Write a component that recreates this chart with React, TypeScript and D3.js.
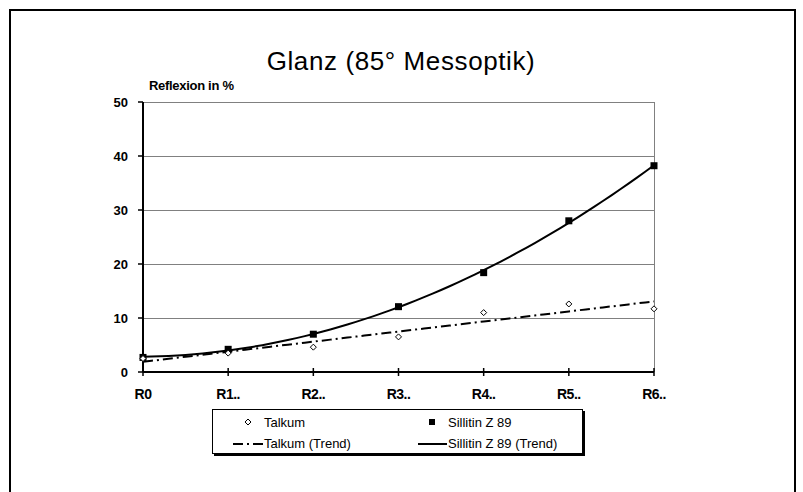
import React from "react";
import * as d3 from "d3"

const categories = ["R0", "R1..", "R2..", "R3..", "R4..", "R5..", "R6.."]
const talkum = [2.5, 3.5, 4.6, 6.5, 11.0, 12.6, 11.7]
const sillitin = [2.7, 4.2, 7.0, 12.1, 18.4, 28.0, 38.2]
const yTicks = [0, 10, 20, 30, 40, 50]

const W = 803
const H = 492
const left = 143
const right = 654
const top = 102
const bottom = 372
const font = "'Liberation Sans', Arial, sans-serif"

// least squares polynomial fit (Excel style trend line), x = 1..n
const polyFit = (ys: number[], degree: number) => {
    const n = degree + 1
    const A: number[][] = [...new Array(n)].map(() => new Array(n + 1).fill(0))
    ys.forEach((y, i) => {
        const x = i + 1
        for (let r = 0; r < n; r++) {
            for (let c = 0; c < n; c++) A[r][c] += Math.pow(x, r + c)
            A[r][n] += Math.pow(x, r) * y
        }
    })
    for (let p = 0; p < n; p++) {
        for (let r = p + 1; r < n; r++) {
            const f = A[r][p] / A[p][p]
            for (let c = p; c <= n; c++) A[r][c] -= f * A[p][c]
        }
    }
    const coef = new Array(n).fill(0)
    for (let r = n - 1; r >= 0; r--) {
        let s = A[r][n]
        for (let c = r + 1; c < n; c++) s -= A[r][c] * coef[c]
        coef[r] = s / A[r][r]
    }
    return (x: number) => coef.reduce((acc, k, i) => acc + k * Math.pow(x, i), 0)
}

export default class App extends React.Component {
    svg: React.RefObject<SVGSVGElement> = React.createRef<SVGSVGElement>()
    componentDidMount() {
        //@ts-ignore
        const svg = d3.select(this.svg.current)
        svg.selectAll("*").remove()

        const x = d3.scalePoint().domain(categories).range([left, right])
        const xi = d3.scaleLinear().domain([1, categories.length]).range([left, right])
        const y = d3.scaleLinear().domain([0, 50]).range([bottom, top])

        // outer frame
        svg.append("rect")
            .attr("x", 10).attr("y", 10)
            .attr("width", 785).attr("height", 520)
            .attr("fill", "white")
            .attr("stroke", "black")
            .attr("stroke-width", 2)

        svg.append("text")
            .attr("x", 401).attr("y", 70)
            .attr("text-anchor", "middle")
            .attr("font-family", font)
            .attr("font-size", 26)
            .attr("letter-spacing", 0.6)
            .text("Glanz (85° Messoptik)")

        svg.append("text")
            .attr("x", 149).attr("y", 90)
            .attr("font-family", font)
            .attr("font-weight", "bold")
            .attr("font-size", 13)
            .attr("letter-spacing", -0.3)
            .text("Reflexion in %")

        // gridlines + plot border
        svg.append("g")
            .selectAll("line")
            .data(yTicks.filter(t => t > 0))
            .join("line")
            .attr("x1", left).attr("x2", right)
            .attr("y1", d => y(d)).attr("y2", d => y(d))
            .attr("stroke", "#808080")
            .attr("stroke-width", 1)
            .attr("shape-rendering", "crispEdges")
        svg.append("line")
            .attr("x1", right).attr("x2", right)
            .attr("y1", y(50)).attr("y2", y(0))
            .attr("stroke", "#808080")
            .attr("stroke-width", 1)
            .attr("shape-rendering", "crispEdges")

        // y axis
        const yAxis = svg.append("g")
        yAxis.append("line")
            .attr("x1", left).attr("x2", left)
            .attr("y1", y(50)).attr("y2", y(0))
            .attr("stroke", "black").attr("stroke-width", 2)
        yAxis.selectAll("line.tick")
            .data(yTicks)
            .join("line")
            .attr("class", "tick")
            .attr("x1", left - 5).attr("x2", left)
            .attr("y1", d => y(d)).attr("y2", d => y(d))
            .attr("stroke", "black").attr("stroke-width", 1.5)
        yAxis.selectAll("text")
            .data(yTicks)
            .join("text")
            .attr("x", 128)
            .attr("y", d => y(d) + 5)
            .attr("text-anchor", "end")
            .attr("font-family", font)
            .attr("font-weight", "bold")
            .attr("font-size", 13)
            .text(d => d)

        // x axis
        const xAxis = svg.append("g")
        xAxis.append("line")
            .attr("x1", left).attr("x2", right)
            .attr("y1", bottom).attr("y2", bottom)
            .attr("stroke", "black").attr("stroke-width", 2)
        xAxis.selectAll("line.tick")
            .data(categories)
            .join("line")
            .attr("class", "tick")
            .attr("x1", d => x(d)!).attr("x2", d => x(d)!)
            .attr("y1", bottom - 4).attr("y2", bottom + 4)
            .attr("stroke", "black").attr("stroke-width", 1.5)
        xAxis.selectAll("text")
            .data(categories)
            .join("text")
            .attr("x", d => x(d)!)
            .attr("y", 399)
            .attr("text-anchor", "middle")
            .attr("font-family", font)
            .attr("font-weight", "bold")
            .attr("font-size", 14)
            .attr("letter-spacing", -0.5)
            .text(d => d)

        // trend lines
        const tTrend = polyFit(talkum, 1)
        const sTrend = polyFit(sillitin, 2)
        const samples = d3.range(1, categories.length + 0.001, 0.1)
        const line = d3.line<number>()
            .x(d => xi(d))
            .y(d => y(0))
        svg.append("path")
            .attr("fill", "none")
            .attr("stroke", "black")
            .attr("stroke-width", 2)
            .attr("stroke-dasharray", "10,4,2,4")
            .attr("d", line.y(d => y(tTrend(d)))(samples))
        svg.append("path")
            .attr("fill", "none")
            .attr("stroke", "black")
            .attr("stroke-width", 2)
            .attr("d", line.y(d => y(sTrend(d)))(samples))

        // markers
        const diamond = (cx: number, cy: number) =>
            `M${cx},${cy - 3}L${cx + 3},${cy}L${cx},${cy + 3}L${cx - 3},${cy}Z`
        svg.append("g")
            .selectAll("rect")
            .data(sillitin)
            .join("rect")
            .attr("x", (d, i) => x(categories[i])! - 3.5)
            .attr("y", d => y(d) - 3.5)
            .attr("width", 7).attr("height", 7)
            .attr("fill", "black")
        svg.append("g")
            .selectAll("path")
            .data(talkum)
            .join("path")
            .attr("d", (d, i) => diamond(x(categories[i])!, y(d)))
            .attr("fill", "white")
            .attr("stroke", "black")
            .attr("stroke-width", 1)

        // legend
        const lg = svg.append("g")
        lg.append("rect")
            .attr("x", 214).attr("y", 411)
            .attr("width", 371).attr("height", 45)
            .attr("fill", "black")
        lg.append("rect")
            .attr("x", 212.5).attr("y", 409.5)
            .attr("width", 370).attr("height", 44)
            .attr("fill", "white")
            .attr("stroke", "black")
            .attr("stroke-width", 1)
        lg.append("path")
            .attr("d", diamond(248, 422))
            .attr("fill", "white").attr("stroke", "black")
        lg.append("rect")
            .attr("x", 429).attr("y", 419)
            .attr("width", 6).attr("height", 6)
            .attr("fill", "black")
        lg.append("line")
            .attr("x1", 233).attr("x2", 263)
            .attr("y1", 444).attr("y2", 444)
            .attr("stroke", "black").attr("stroke-width", 2)
            .attr("stroke-dasharray", "10,4,2,4")
        lg.append("line")
            .attr("x1", 418).attr("x2", 447)
            .attr("y1", 444).attr("y2", 444)
            .attr("stroke", "black").attr("stroke-width", 2)
        const items = [
            { t: "Talkum", x: 264, y: 427 },
            { t: "Sillitin Z 89", x: 448, y: 427 },
            { t: "Talkum (Trend)", x: 264, y: 448 },
            { t: "Sillitin Z 89 (Trend)", x: 448, y: 448 },
        ]
        lg.selectAll("text")
            .data(items)
            .join("text")
            .attr("x", d => d.x).attr("y", d => d.y)
            .attr("font-family", font)
            .attr("font-size", 13)
            .text(d => d.t)
    }
    render(): React.ReactNode {
        return (
            <>
                <svg ref={this.svg} width={W} height={H} viewBox={`0 0 ${W} ${H}`}
                    style={{ position: "absolute", left: 0, top: 0, background: "white" }}></svg>
            </>
        )
    }
}
